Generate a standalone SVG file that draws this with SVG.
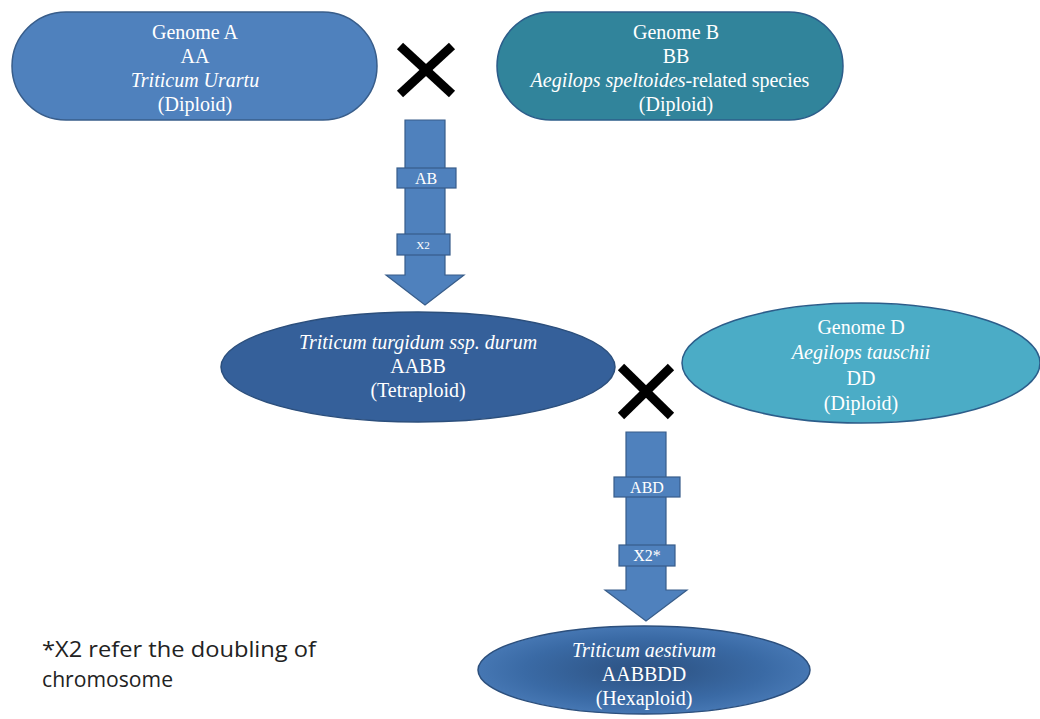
<svg xmlns="http://www.w3.org/2000/svg" width="1040" height="719" viewBox="0 0 1040 719">
<style>
.t{font-family:'Liberation Serif','DejaVu Serif','Times New Roman',serif;fill:#fff;font-size:20px;text-anchor:middle}
.i{font-style:italic}
.s{font-size:16px}
.xs{font-size:11px}
.arrow{fill:#4f81bd;stroke:#385d8a;stroke-width:1.2}
.lbl{fill:#4f81bd;stroke:#385d8a;stroke-width:1.2}
.x{stroke:#000;stroke-width:9;stroke-linecap:butt}
.note{font-family:'Open Sans','Liberation Sans',sans-serif;font-size:22px;fill:#222}
</style>
<defs>
<radialGradient id="hex" cx="0.5" cy="0.5" r="0.6">
<stop offset="0" stop-color="#2c5181"/>
<stop offset="0.6" stop-color="#3a6aa5"/>
<stop offset="1" stop-color="#4e80bd"/>
</radialGradient>
</defs>
<rect width="1040" height="719" fill="#fff"/>
<g id="connectors">
<g id="arrow1">
<path class="arrow" d="M405,120 H445 V275 H464 L425,305 L386,275 H405 Z"/>
<rect class="lbl" x="397" y="168" width="59" height="20"/>
<text class="t s" x="426" y="184">AB</text>
<rect class="lbl" x="397" y="234" width="53" height="21"/>
<text class="t xs" x="423" y="249">X2</text>
</g>
<g id="arrow2">
<path class="arrow" d="M626,432 H666 V590 H687 L646,621 L605,590 H626 Z"/>
<rect class="lbl" x="614" y="477" width="66" height="20"/>
<text class="t s" x="647" y="493" font-size="17">ABD</text>
<rect class="lbl" x="619" y="545" width="56" height="21"/>
<text class="t s" x="647" y="561">X2*</text>
</g>
<g id="cross1"><line class="x" x1="400" y1="46" x2="452" y2="94"/><line class="x" x1="452" y1="46" x2="400" y2="94"/></g>
<g id="cross2"><line class="x" x1="621" y1="367" x2="671" y2="416"/><line class="x" x1="671" y1="367" x2="621" y2="416"/></g>
</g>
<g id="genomeA">
<rect x="12" y="12" width="365" height="108" rx="54" ry="54" fill="#4f81bd" stroke="#385d8a" stroke-width="1.5"/>
<text class="t" x="195" y="39">Genome A</text>
<text class="t" x="195" y="63">AA</text>
<text class="t i" x="195" y="87">Triticum Urartu</text>
<text class="t" x="195" y="111">(Diploid)</text>
</g>
<g id="genomeB">
<rect x="497" y="12" width="346" height="108" rx="54" ry="54" fill="#31849b" stroke="#2c5d8a" stroke-width="1.5"/>
<text class="t" x="676" y="39">Genome B</text>
<text class="t" x="676" y="63">BB</text>
<text class="t" x="670" y="87"><tspan class="i">Aegilops speltoides</tspan>-related species</text>
<text class="t" x="676" y="111">(Diploid)</text>
</g>
<g id="tetraploid">
<ellipse cx="418" cy="367" rx="197" ry="55" fill="#35609a" stroke="#2c4f7c" stroke-width="1.5"/>
<text class="t i" x="418" y="349">Triticum turgidum ssp. durum</text>
<text class="t" x="418" y="373">AABB</text>
<text class="t" x="418" y="397">(Tetraploid)</text>
</g>
<g id="genomeD">
<ellipse cx="861" cy="363" rx="179" ry="60" fill="#4bacc6" stroke="#2c5d8a" stroke-width="1.5"/>
<text class="t" x="861" y="334">Genome D</text>
<text class="t i" x="861" y="359">Aegilops tauschii</text>
<text class="t" x="861" y="385">DD</text>
<text class="t" x="861" y="410">(Diploid)</text>
</g>
<g id="hexaploid">
<ellipse cx="644" cy="670" rx="166" ry="44" fill="url(#hex)" stroke="#2c4f7c" stroke-width="1.5"/>
<text class="t i" x="644" y="657">Triticum aestivum</text>
<text class="t" x="644" y="681">AABBDD</text>
<text class="t" x="644" y="705">(Hexaploid)</text>
</g>
<g id="footnote">
<text class="note" x="42" y="657" textLength="274" lengthAdjust="spacingAndGlyphs">*X2 refer the doubling of</text>
<text class="note" x="42" y="687" textLength="131" lengthAdjust="spacingAndGlyphs">chromosome</text>
</g>
</svg>
